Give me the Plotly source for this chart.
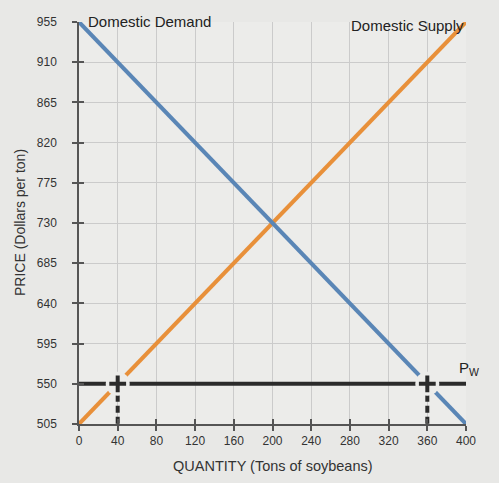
import plotly.graph_objects as go

# Data
quantity_ticks = [0, 40, 80, 120, 160, 200, 240, 280, 320, 360, 400]
price_ticks = [505, 550, 595, 640, 685, 730, 775, 820, 865, 910, 955]

supply_q = [0, 400]
supply_p = [505, 955]
demand_q = [0, 400]
demand_p = [955, 505]

world_price = 550
pw_q = [0, 400]
qs_at_pw = 40   # domestic quantity supplied at world price
qd_at_pw = 360  # domestic quantity demanded at world price
p_min = 505

BG = "#e8e8e6"
PLOT_BG = "#ececea"
DARK = "#2b2b2b"
FONT = "Liberation Sans, Arial, sans-serif"

fig = go.Figure()

fig.add_trace(go.Scatter(x=supply_q, y=supply_p, mode="lines",
                         line=dict(color="#e8903a", width=4), hoverinfo="skip"))
fig.add_trace(go.Scatter(x=demand_q, y=demand_p, mode="lines",
                         line=dict(color="#5a86b6", width=4), hoverinfo="skip"))
# world price line
fig.add_trace(go.Scatter(x=pw_q, y=[world_price, world_price], mode="lines",
                         line=dict(color=DARK, width=4), hoverinfo="skip"))
# dashed drop lines
for q in (qs_at_pw, qd_at_pw):
    fig.add_trace(go.Scatter(x=[q, q], y=[world_price, p_min], mode="lines",
                             line=dict(color=DARK, width=4, dash="7px,4px"),
                             hoverinfo="skip"))
# masks under crosses
fig.add_trace(go.Scatter(x=[qs_at_pw, qd_at_pw], y=[world_price, world_price], mode="markers",
                         marker=dict(symbol="circle", size=24, color=PLOT_BG, line=dict(width=0)),
                         hoverinfo="skip"))
fig.add_trace(go.Scatter(x=[qs_at_pw, qd_at_pw], y=[world_price, world_price], mode="markers",
                         marker=dict(symbol="cross-thin", size=12, line=dict(color=DARK, width=4)),
                         hoverinfo="skip"))
# invisible trace on overlay axes to activate them
fig.add_trace(go.Scatter(x=[0], y=[505], xaxis="x2", yaxis="y2", mode="markers",
                         marker=dict(opacity=0), hoverinfo="skip"))

tickfont = dict(family=FONT, size=12, color="#333")
fig.update_layout(
    width=499, height=483,
    margin=dict(l=79, r=33, t=22, b=59),
    paper_bgcolor=BG, plot_bgcolor=PLOT_BG,
    showlegend=False,
    xaxis=dict(range=[0, 400], tickvals=quantity_ticks, ticktext=[str(v) for v in quantity_ticks],
               showgrid=True, gridcolor="#cbcbcb", gridwidth=1, zeroline=False,
               showline=True, linecolor="#555", linewidth=1.5,
               ticks="outside", ticklen=5, tickcolor="#555", tickwidth=1.5,
               tickfont=tickfont),
    yaxis=dict(range=[505, 955], tickvals=price_ticks, ticktext=[str(v) for v in price_ticks],
               showgrid=True, gridcolor="#cbcbcb", gridwidth=1, zeroline=False,
               showline=True, linecolor="#555", linewidth=1.5,
               ticks="outside", ticklen=5, tickcolor="#555", tickwidth=1.5,
               tickfont=tickfont, ticklabelstandoff=13),
    xaxis2=dict(range=[0, 400], tickvals=quantity_ticks, overlaying="x", showticklabels=False,
                showgrid=False, zeroline=False, ticks="inside", ticklen=5,
                tickcolor="#555", tickwidth=1.5),
    yaxis2=dict(range=[505, 955], tickvals=price_ticks, overlaying="y", showticklabels=False,
                showgrid=False, zeroline=False, ticks="inside", ticklen=5,
                tickcolor="#555", tickwidth=1.5),
    annotations=[
        dict(x=0, y=955, xref="x", yref="y", text="Domestic Demand", showarrow=False,
             xanchor="left", yanchor="middle", xshift=7, yshift=1,
             font=dict(family=FONT, size=15, color="#222")),
        dict(x=400, y=955, xref="x", yref="y", text="Domestic Supply", showarrow=False,
             xanchor="right", yanchor="middle", xshift=0, yshift=-3,
             font=dict(family=FONT, size=15, color="#222")),
        dict(x=400, y=world_price, xref="x", yref="y", text="P<sub>W</sub>", showarrow=False,
             xanchor="center", yanchor="bottom", xshift=3, yshift=4,
             font=dict(family=FONT, size=15, color="#222")),
        dict(x=0.5, y=0, xref="paper", yref="paper", text="QUANTITY (Tons of soybeans)",
             showarrow=False, xanchor="center", yanchor="top", yshift=-32,
             font=dict(family=FONT, size=14.5, color="#333")),
        dict(x=0, y=0.5, xref="paper", yref="paper", text="PRICE (Dollars per ton)",
             showarrow=False, textangle=-90, xanchor="center", yanchor="middle", xshift=-59,
             font=dict(family=FONT, size=14, color="#333")),
    ],
)

fig.write_html("out.html")
